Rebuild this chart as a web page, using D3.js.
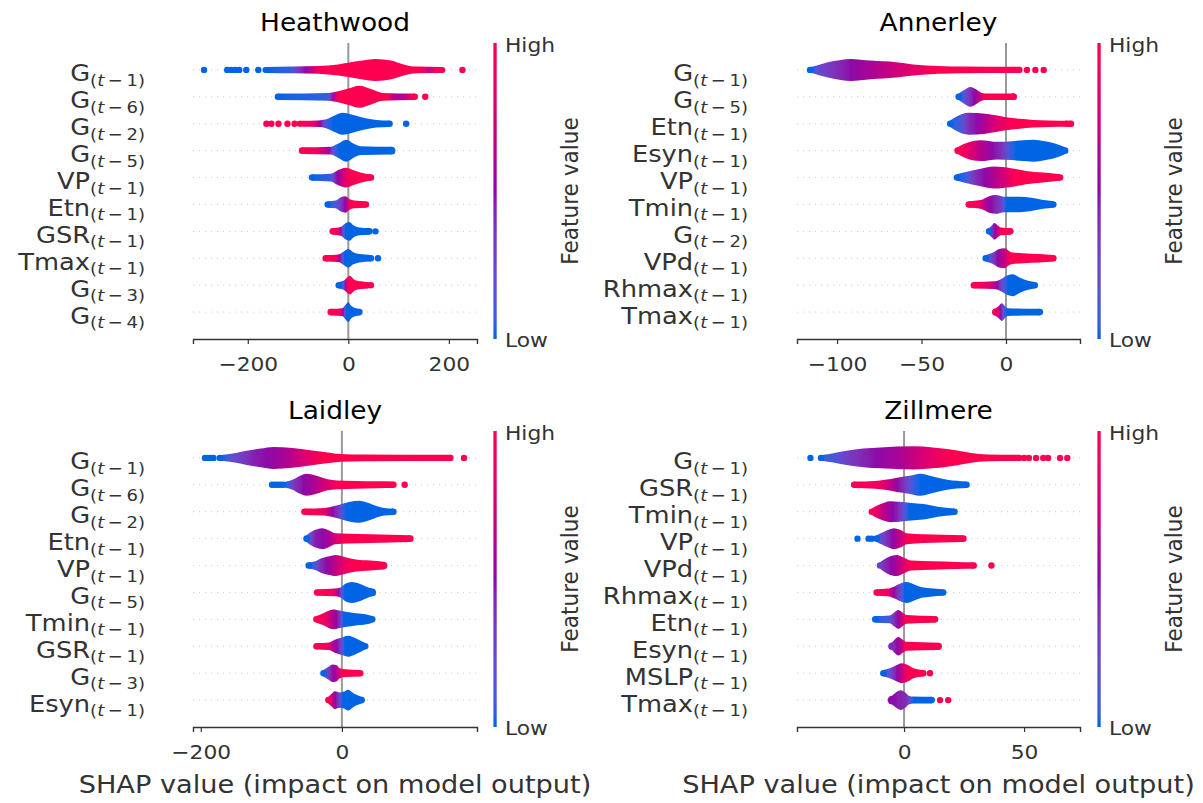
<!DOCTYPE html>
<html lang="en">
<head>
<meta charset="utf-8">
<title>SHAP summary - four stations</title>
<script src="https://d3js.org/d3.v7.min.js"></script>
<style>
  body { margin: 0; background: #fff; }
  svg { display: block; font-family: "DejaVu Sans", sans-serif; }
</style>
</head>
<body>
<script>
// ---- data ----
// shape knots: [shap value, relative swarm density]; colour knots: [shap value, feature value 0=low..1=high]
// dots: isolated points [shap value, feature value]

var heathwoodLabels = ["G(t−1)", "G(t−6)", "G(t−2)", "G(t−5)", "VP(t−1)", "Etn(t−1)", "GSR(t−1)", "Tmax(t−1)", "G(t−3)", "G(t−4)"];
var heathwoodDomain = [-309, 256];
var heathwoodTicks = [-200, 0, 200];
var heathwoodShape = [
  [[-165,0.27],[-110,0.3],[-60,0.35],[-20,0.5],[20,0.8],[55,1.0],[85,0.85],[110,0.5],[135,0.3],[187,0.27]],
  [[-140,0.3],[-40,0.35],[-25,0.45],[0,0.75],[22,1.0],[45,0.7],[68,0.35],[132,0.3]],
  [[-97,0.27],[-60,0.3],[-44,0.4],[-25,0.8],[-12,1.0],[10,0.8],[35,0.5],[56,0.35],[82,0.3]],
  [[-92,0.3],[-35,0.35],[-22,0.6],[-4,1.0],[12,0.6],[25,0.4],[86,0.35]],
  [[-72,0.3],[-35,0.35],[-22,0.65],[-5,0.9],[12,0.65],[30,0.4],[45,0.3]],
  [[-41,0.3],[-25,0.35],[-15,0.65],[-6,0.75],[2,0.5],[12,0.35],[35,0.3]],
  [[-31,0.3],[-15,0.4],[-5,0.75],[2,0.85],[10,0.55],[22,0.35],[42,0.3]],
  [[-45,0.3],[-20,0.35],[-10,0.6],[0,0.85],[10,0.55],[22,0.38],[45,0.3]],
  [[-19,0.3],[-8,0.45],[3,0.85],[12,0.5],[25,0.35],[38,0.3]],
  [[-35,0.3],[-12,0.35],[-5,0.7],[0,0.9],[5,0.6],[12,0.4],[22,0.3]]
];
var heathwoodColor = [
  [[-165,0],[-115,0.05],[-100,0.35],[-80,0.55],[-62,0.9],[-40,1],[145,1],[160,0.75],[178,1]],
  [[-140,0],[-40,0.05],[-30,0.6],[-20,1],[80,1],[90,0.6],[115,0.65],[125,1]],
  [[-97,1],[-70,0.9],[-55,0.5],[-42,0.05],[-30,0]],
  [[-92,1],[-60,0.9],[-40,0.6],[-28,0.1],[-20,0]],
  [[-72,0],[-35,0.05],[-25,0.45],[-12,0.7],[0,0.95],[10,1]],
  [[-41,0],[-22,0.15],[-12,0.4],[-3,0.6],[3,1]],
  [[-31,1],[-20,0.9],[-12,0.3],[-6,0]],
  [[-45,1],[-25,0.95],[-15,0.4],[-8,0]],
  [[-19,0],[-10,0.1],[-3,0.85],[3,1]],
  [[-35,1],[-18,0.95],[-10,0.5],[-5,0]]
];
var heathwoodDots = [
  [[-287,0],[-241,0],[-233,0],[-225,0],[-217,0],[-203,0],[-179,0],[227,1]],
  [[153,1]],
  [[-163,1],[-153,1],[-139,1],[-121,1],[-107,1],[115,0]],
  [], [], [],
  [[54,0]],
  [[59,0]],
  [[45,1]],
  []
];

var annerleyLabels = ["G(t−1)", "G(t−5)", "Etn(t−1)", "Esyn(t−1)", "VP(t−1)", "Tmin(t−1)", "G(t−2)", "VPd(t−1)", "Rhmax(t−1)", "Tmax(t−1)"];
var annerleyDomain = [-123.7, 43.8];
var annerleyTicks = [-100, -50, 0];
var annerleyShape = [
  [[-115,0.28],[-110,0.5],[-102,0.8],[-92,1.0],[-80,0.85],[-65,0.7],[-55,0.5],[-40,0.35],[-26,0.3],[8,0.28]],
  [[-28,0.3],[-25,0.6],[-21,0.9],[-18,0.7],[-15,0.4],[-12,0.3],[4.5,0.3]],
  [[-33,0.3],[-30,0.6],[-22,1.0],[-12,0.9],[0,0.6],[8,0.45],[16,0.35],[25,0.3],[38,0.28]],
  [[-28.6,0.3],[-25,0.6],[-15,0.95],[-5,0.8],[3,0.85],[10,0.95],[16,1.0],[25,0.8],[32,0.5],[35,0.3]],
  [[-29,0.3],[-25,0.45],[-15,0.8],[-7,1.0],[3,0.85],[12,0.6],[22,0.45],[32,0.3]],
  [[-22,0.3],[-15,0.4],[-10,0.75],[-6,0.85],[-1,0.7],[8,0.7],[15,0.6],[22,0.4],[28,0.3]],
  [[-10,0.3],[-8,0.6],[-7,0.75],[-5,0.55],[-3,0.35],[2.5,0.3]],
  [[-12,0.3],[-8,0.5],[-4,0.85],[-1,0.9],[3,0.55],[10,0.45],[20,0.38],[28,0.3]],
  [[-19,0.3],[-7,0.35],[-3,0.55],[1,0.9],[4,1.0],[8,0.7],[12,0.45],[17,0.3]],
  [[-6,0.35],[-4,0.6],[-2.5,0.8],[-1,0.6],[1,0.35],[20,0.3]]
];
var annerleyColor = [
  [[-116,0],[-110,0.25],[-100,0.4],[-92,0.5],[-80,0.6],[-65,0.75],[-50,0.9],[-40,1]],
  [[-28,0],[-24,0.2],[-20,0.45],[-16,0.65],[-12,1]],
  [[-33,0],[-27,0.1],[-22,0.4],[-15,0.55],[-8,0.75],[-2,0.9],[5,1]],
  [[-28.6,1],[-22,0.85],[-15,0.65],[-8,0.5],[-3,0.4],[3,0.05],[6,0]],
  [[-29,0],[-24,0.05],[-18,0.4],[-10,0.55],[-2,0.75],[6,1]],
  [[-22,1],[-16,0.9],[-12,0.6],[-7,0.45],[-3,0.3],[0,0]],
  [[-10,0],[-8.5,0.35],[-6,0.55],[-4,0.85],[-2,1]],
  [[-12,0],[-9,0.2],[-5,0.5],[-1,0.7],[3,1]],
  [[-19,1],[-10,0.85],[-5,0.5],[-1,0.1],[1,0]],
  [[-6,0.9],[-4,0.6],[-2,0.3],[0,0]]
];
var annerleyDots = [
  [[-116,0],[12.4,1],[17.4,1],[22.3,1]],
  [[4.5,1]],
  [[36,1],[38.5,1]],
  [], [], [], [], [], [], []
];

var laidleyLabels = ["G(t−1)", "G(t−6)", "G(t−2)", "Etn(t−1)", "VP(t−1)", "G(t−5)", "Tmin(t−1)", "GSR(t−1)", "G(t−3)", "Esyn(t−1)"];
var laidleyDomain = [-211, 191.5];
var laidleyTicks = [-200, 0];
var laidleyShape = [
  [[-168,0.28],[-150,0.45],[-135,0.65],[-115,0.85],[-97,1.0],[-70,0.9],[-40,0.65],[-15,0.45],[-2,0.35],[30,0.3],[154,0.28]],
  [[-78,0.3],[-70,0.45],[-60,0.8],[-50,1.0],[-35,0.8],[-20,0.5],[-7,0.4],[20,0.35],[50,0.32],[73,0.3]],
  [[-53,0.3],[-25,0.35],[-15,0.45],[0,0.7],[12,0.9],[24,1.0],[38,0.8],[50,0.5],[60,0.35],[73,0.3]],
  [[-50,0.3],[-45,0.55],[-35,0.85],[-28,0.95],[-18,0.75],[-10,0.5],[10,0.45],[40,0.4],[70,0.35],[97,0.3]],
  [[-47,0.3],[-38,0.4],[-30,0.65],[-18,0.85],[-9,0.95],[5,0.75],[20,0.55],[40,0.45],[59,0.35]],
  [[-35,0.3],[-10,0.35],[-2,0.45],[5,0.8],[14,0.95],[25,0.8],[34,0.55],[43,0.35]],
  [[-36,0.3],[-28,0.5],[-18,0.8],[-12,0.9],[-4,0.8],[5,0.7],[20,0.55],[35,0.45],[43,0.3]],
  [[-36,0.3],[-18,0.35],[-10,0.6],[0,0.8],[9,0.95],[20,0.7],[28,0.45],[33,0.3]],
  [[-26,0.3],[-20,0.55],[-13,0.8],[-8,0.75],[-3,0.45],[5,0.35],[26,0.3]],
  [[-19,0.3],[-15,0.55],[-10,0.8],[-3,0.7],[2,0.75],[9,0.95],[15,0.7],[20,0.5],[28,0.3]]
];
var laidleyColor = [
  [[-170,0],[-150,0.25],[-125,0.45],[-100,0.52],[-80,0.6],[-60,0.75],[-40,0.9],[-25,1]],
  [[-99,0],[-78,0.05],[-68,0.35],[-55,0.5],[-40,0.6],[-25,0.75],[-12,0.9],[0,1]],
  [[-53,1],[-25,0.9],[-15,0.55],[-5,0.35],[2,0.05],[6,0]],
  [[-50,0],[-45,0.2],[-38,0.45],[-28,0.5],[-18,0.6],[-8,0.8],[5,1]],
  [[-47,0],[-38,0.1],[-30,0.4],[-18,0.55],[-8,0.7],[5,0.9],[15,1]],
  [[-35,1],[-15,0.95],[-5,0.6],[0,0.1],[4,0]],
  [[-36,1],[-24,0.9],[-14,0.65],[-7,0.5],[-2,0.3],[2,0]],
  [[-36,1],[-20,0.9],[-12,0.6],[-5,0.45],[0,0.2],[4,0]],
  [[-26,0],[-20,0.3],[-13,0.5],[-6,0.65],[-1,1]],
  [[-19,1],[-15,0.8],[-10,0.55],[-5,0.35],[-1,0.05],[2,0]]
];
var laidleyDots = [
  [[-194,0],[-190,0],[-186,0],[-182,0],[-173,0],[173,1]],
  [[-99,0],[-95,0],[-91,0],[-87,0],[-83,0],[89,1]],
  [], [], [], [], [], [], [], []
];

var zillmereLabels = ["G(t−1)", "GSR(t−1)", "Tmin(t−1)", "VP(t−1)", "VPd(t−1)", "Rhmax(t−1)", "Etn(t−1)", "Esyn(t−1)", "MSLP(t−1)", "Tmax(t−1)"];
var zillmereDomain = [-44.6, 73.3];
var zillmereTicks = [0, 50];
var zillmereShape = [
  [[-33.5,0.28],[-30,0.4],[-24,0.65],[-17,0.85],[-10,0.95],[4,1.05],[12,0.95],[18,0.8],[25,0.55],[31,0.35],[35,0.3],[48,0.28]],
  [[-20.8,0.3],[-12,0.35],[-8,0.45],[-3,0.65],[3,0.85],[6.6,1.0],[12,0.75],[18,0.45],[26,0.3]],
  [[-13.4,0.3],[-11,0.6],[-8,0.85],[-5.8,0.95],[-2,0.9],[3,0.8],[8,0.7],[14,0.45],[21,0.3]],
  [[-11.4,0.3],[-9,0.55],[-6,0.85],[-4.4,0.95],[-1,0.75],[1,0.5],[8,0.4],[16,0.35],[24.7,0.3]],
  [[-10,0.3],[-8,0.6],[-5,0.9],[-3,0.95],[0,0.7],[3,0.45],[12,0.38],[22,0.32],[29,0.3]],
  [[-11.4,0.3],[-7,0.35],[-4,0.55],[-1,0.85],[1,0.95],[4,0.75],[7,0.5],[11,0.38],[16.3,0.3]],
  [[-12,0.3],[-6,0.35],[-4,0.65],[-2.4,0.85],[-0.5,0.6],[1,0.4],[12.9,0.3]],
  [[-5,0.35],[-4,0.6],[-2.4,0.85],[-0.5,0.6],[1,0.4],[14.3,0.33]],
  [[-8.6,0.3],[-6,0.45],[-3,0.75],[-1,0.9],[2,0.7],[4,0.45],[8,0.3]],
  [[-5,0.4],[-3,0.75],[-1.4,0.9],[0.5,0.7],[2,0.4],[4,0.32],[11.5,0.3]]
];
var zillmereColor = [
  [[-39,0],[-30,0.1],[-22,0.35],[-12,0.5],[-2,0.6],[6,0.75],[14,0.9],[20,1]],
  [[-20.8,1],[-10,0.9],[-5,0.65],[0,0.35],[4,0.05],[7,0]],
  [[-13.4,1],[-10,0.75],[-6,0.55],[-3,0.45],[0,0.15],[2,0]],
  [[-11.4,0],[-9,0.25],[-6,0.45],[-3,0.6],[0,0.85],[2,1]],
  [[-10,0.3],[-7,0.45],[-4,0.55],[-1,0.75],[2,0.95],[4,1]],
  [[-11.4,1],[-7,0.9],[-4,0.5],[-2,0.3],[0,0]],
  [[-12,0],[-6,0.1],[-4,0.4],[-2,0.55],[0,0.9],[1,1]],
  [[-5,0.4],[-3,0.5],[-1,0.7],[1,1]],
  [[-8.6,0],[-6,0.2],[-3,0.5],[0,0.8],[2,1]],
  [[-5,0.5],[-2,0.45],[1,0.4],[3,0.1],[4,0]]
];
var zillmereDots = [
  [[-39,0],[-34.6,0],[50,1],[52,1],[55,1],[58,1],[60,1],[65,1],[68,1]],
  [], [], 
  [[-19.4,0],[-14.8,0],[-13.5,0]],
  [[36.4,1]],
  [], [], [],
  [[10.8,1]],
  [[15,1],[18.4,1]]
];

// colour map stops, low -> high feature value
var colorStops = ["#0064e4", "#6a46cc", "#8c0aa8", "#d0007a", "#ff0050"];

// ---- layout ----
var W = 1203, H = 803;
var SX = 1.1;   // the figure is slightly stretched horizontally

var panels = [
  {title: "Heathwood", labels: heathwoodLabels, shape: heathwoodShape, color: heathwoodColor, dots: heathwoodDots,
   domain: heathwoodDomain, ticks: heathwoodTicks, left: 193, right: 477, top: 43, bottom: 339, labelRight: 145, cbX: 495, xlabel: false},
  {title: "Annerley", labels: annerleyLabels, shape: annerleyShape, color: annerleyColor, dots: annerleyDots,
   domain: annerleyDomain, ticks: annerleyTicks, left: 797, right: 1080, top: 43, bottom: 339, labelRight: 748, cbX: 1099, xlabel: false},
  {title: "Laidley", labels: laidleyLabels, shape: laidleyShape, color: laidleyColor, dots: laidleyDots,
   domain: laidleyDomain, ticks: laidleyTicks, left: 193, right: 477, top: 431, bottom: 727, labelRight: 145, cbX: 495, xlabel: true},
  {title: "Zillmere", labels: zillmereLabels, shape: zillmereShape, color: zillmereColor, dots: zillmereDots,
   domain: zillmereDomain, ticks: zillmereTicks, left: 797, right: 1080, top: 431, bottom: 727, labelRight: 748, cbX: 1099, xlabel: true}
];

var shapInterp = d3.piecewise(d3.interpolateLab, colorStops);
function shapColor(t) {
  return d3.color(shapInterp(Math.max(0, Math.min(1, t)))).formatHex();
}

var svg = d3.select("body").append("svg")
  .attr("width", W)
  .attr("height", H);
svg.append("rect").attr("width", W).attr("height", H).attr("fill", "#fff");
var defs = svg.append("defs");

// colour bar gradient (shared)
var cbGrad = defs.append("linearGradient")
  .attr("id", "cbgrad")
  .attr("x1", 0).attr("y1", 1).attr("x2", 0).attr("y2", 0);
d3.range(0, 1.0001, 0.05).forEach(function(t) {
  cbGrad.append("stop").attr("offset", t).attr("stop-color", shapColor(t));
});

var hw = d3.scaleLinear().domain([0, 1]).range([0, 11]);

function stretchedText(g, x, y, size) {
  return g.append("text")
    .attr("transform", "translate(" + x + "," + y + ") scale(" + SX + ",1)")
    .attr("font-size", size);
}

panels.forEach(function(p, pi) {
  var g = svg.append("g");
  var x = d3.scaleLinear().domain(p.domain).range([p.left, p.right]);
  var y = d3.scaleLinear().domain([-1, p.labels.length]).range([p.top, p.bottom]);

  // dotted row guides
  g.selectAll(".guide").data(p.labels).enter().append("line")
    .attr("x1", p.left).attr("x2", p.right)
    .attr("y1", function(d, i) { return y(i); })
    .attr("y2", function(d, i) { return y(i); })
    .attr("stroke", "#cccccc")
    .attr("stroke-width", 1)
    .attr("stroke-dasharray", "1,5");

  // zero line
  g.append("line")
    .attr("x1", x(0)).attr("x2", x(0))
    .attr("y1", p.top).attr("y2", p.bottom)
    .attr("stroke", "#999999")
    .attr("stroke-width", 2);

  // swarm bodies
  p.shape.forEach(function(knots, i) {
    var ck = p.color[i];
    var cx = ck.map(function(d) { return d[0]; });
    var cv = d3.scaleLinear().domain(cx).range(ck.map(function(d) { return d[1]; })).clamp(true);
    var x0 = d3.min(cx), x1 = d3.max(cx);
    var id = "sw" + pi + "_" + i;
    var grad = defs.append("linearGradient")
      .attr("id", id)
      .attr("gradientUnits", "userSpaceOnUse")
      .attr("x1", x(x0)).attr("x2", x(x1))
      .attr("y1", 0).attr("y2", 0);
    d3.range(0, 1.0001, 1 / 60).forEach(function(f) {
      grad.append("stop").attr("offset", f)
        .attr("stop-color", shapColor(cv(x0 + f * (x1 - x0))));
    });
    var area = d3.area()
      .x(function(d) { return x(d[0]); })
      .y0(function(d) { return y(i) - hw(d[1]); })
      .y1(function(d) { return y(i) + hw(d[1]); })
      .curve(d3.curveMonotoneX);
    g.append("path")
      .attr("d", area(knots))
      .attr("fill", "url(#" + id + ")");
    // round ends
    [knots[0], knots[knots.length - 1]].forEach(function(k) {
      g.append("circle")
        .attr("cx", x(k[0])).attr("cy", y(i)).attr("r", hw(k[1]))
        .attr("fill", shapColor(cv(k[0])));
    });
    // isolated points
    g.selectAll(".dot" + i).data(p.dots[i]).enter().append("circle")
      .attr("cx", function(d) { return x(d[0]); })
      .attr("cy", y(i))
      .attr("r", 3.2)
      .attr("fill", function(d) { return shapColor(d[1]); });
  });

  // feature labels with subscript
  p.labels.forEach(function(lab, i) {
    var k = lab.indexOf("(");
    var name = lab.slice(0, k);
    var lag = lab.slice(k + 3, lab.length - 1);
    var t = stretchedText(g, p.labelRight, y(i) + 11.5, 23.4)
      .attr("text-anchor", "end")
      .attr("fill", "#333333");
    t.append("tspan").text(name);
    t.append("tspan").attr("font-size", 16.4).attr("dy", 4.5).text("(");
    t.append("tspan").attr("font-size", 16.4).attr("font-style", "italic").text("t");
    t.append("tspan").attr("font-size", 16.4).text("\u2009\u2212\u2009" + lag + ")");
  });

  // x axis
  var ax = g.append("g")
    .attr("transform", "translate(0," + p.bottom + ")")
    .call(d3.axisBottom(x).tickValues(p.ticks).tickSizeOuter(0).tickSize(5)
      .tickFormat(function(d) { return d < 0 ? "\u2212" + Math.abs(d) : d; }));
  ax.select(".domain").attr("stroke", "#333333").attr("stroke-width", 1.4);
  ax.selectAll(".tick line").attr("stroke", "#333333").attr("stroke-width", 1.2);
  ax.selectAll(".tick text")
    .attr("fill", "#333333")
    .attr("font-family", "DejaVu Sans")
    .attr("font-size", 19.8)
    .attr("dy", null)
    .attr("y", 32)
    .attr("transform", "scale(" + SX + ",1)");

  // title
  stretchedText(g, (p.left + p.right) / 2, p.top - 12.5, 24)
    .attr("text-anchor", "middle")
    .attr("fill", "#000")
    .text(p.title);

  if (p.xlabel) {
    stretchedText(g, (p.left + p.right) / 2, 793, 24.7)
      .attr("text-anchor", "middle")
      .attr("fill", "#333333")
      .text("SHAP value (impact on model output)");
  }

  // colour bar
  g.append("rect")
    .attr("x", p.cbX - 1.6).attr("y", p.top)
    .attr("width", 3.3).attr("height", p.bottom - p.top)
    .attr("fill", "url(#cbgrad)");
  stretchedText(g, p.cbX + 10, p.top + 9, 19.8).attr("fill", "#333333").text("High");
  stretchedText(g, p.cbX + 10, p.bottom + 8, 19.8).attr("fill", "#333333").text("Low");
  g.append("text")
    .attr("transform", "translate(" + (p.cbX + 83) + "," + ((p.top + p.bottom) / 2) + ") scale(" + SX + ",1) rotate(-90)")
    .attr("text-anchor", "middle")
    .attr("font-size", 21.6)
    .attr("fill", "#333333")
    .text("Feature value");
});
</script>
</body>
</html>
